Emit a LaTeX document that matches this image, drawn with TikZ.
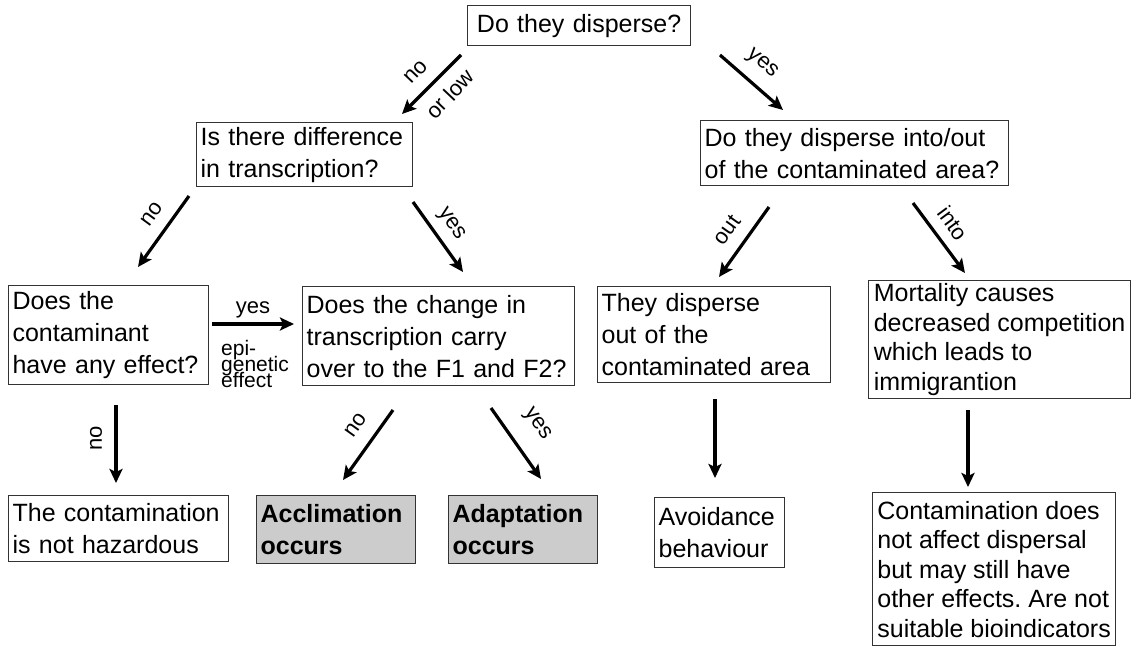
\documentclass[tikz,border=0pt]{standalone}
\usepackage{fontspec}
\setmainfont{Liberation Sans}
\usetikzlibrary{arrows.meta}
\frenchspacing
\newcommand\mytightlines{\lineskiplimit=-30pt\relax\lineskip=0pt\relax}
\begin{document}
\begin{tikzpicture}[x=1pt,y=-1pt,
  box/.style={draw=black!80, line width=1.2pt, anchor=north west, align=left,
    inner xsep=4pt, inner ysep=0pt, font=\fontsize{25}{32}\selectfont},
  tight/.style={font=\fontsize{25}{29.5}\selectfont},
  grey/.style={fill=black!20, font=\fontsize{25}{32}\selectfont\bfseries},
  arr/.style={line width=3.2pt, -{Stealth[length=14pt,width=13pt,inset=3pt]}},
  lab/.style={font=\fontsize{22}{22}\selectfont, inner sep=0pt}]
\fill[white] (0,0) rectangle (1144,648);
\useasboundingbox (0,0) rectangle (1144,648);

% boxes
\node[box, align=center, text width=215pt, minimum height=40pt] (q1) at (467,5) {Do they disperse?};
\node[box, text width=208pt, minimum height=64pt] (q2) at (196,122) {Is there difference\\in transcription?};
\node[box, text width=300pt, minimum height=65pt] (q3) at (700,120) {Do they disperse into/out\\of the contaminated area?};
\node[box, text width=192pt, minimum height=99pt] (q4) at (8,285) {Does the\\contaminant\\have any effect?};
\node[box, text width=264pt, minimum height=99pt] (q5) at (302,286) {Does the change in\\transcription carry\\over to the F1 and F2?};
\node[box, text width=225pt, minimum height=96pt] (q6) at (597,286) {They disperse\\out of the\\contaminated area};
\node[box, tight, minimum width=262pt, minimum height=118pt] (q7) at (868,280) {Mortality causes\\decreased competition\\which leads to\\immigrantion};
\node[box, text width=212pt, minimum height=66pt] (r1) at (8,495) {The contamination\\is not hazardous};
\node[box, grey, text width=151pt, minimum height=68pt] (r2) at (256,495) {Acclimation\\occurs};
\node[box, grey, text width=141pt, minimum height=68pt] (r3) at (448,495) {Adaptation\\occurs};
\node[box, text width=122pt, minimum height=70pt] (r4) at (654,497) {Avoidance\\behaviour};
\node[box, tight, minimum width=243pt, minimum height=153pt] (r5) at (872,492) {Contamination does\\not affect dispersal\\but may still have\\other effects. Are not\\suitable bioindicators};

% arrow end points
\coordinate (a1s) at (461,55);  \coordinate (a1e) at (402,114);
\coordinate (a2s) at (720,55);  \coordinate (a2e) at (783,110);
\coordinate (a3s) at (189,196); \coordinate (a3e) at (138,267);
\coordinate (a4s) at (413,202); \coordinate (a4e) at (463,272);
\coordinate (a5s) at (769,207); \coordinate (a5e) at (719,277);
\coordinate (a6s) at (913,203); \coordinate (a6e) at (965,273);
\coordinate (a7s) at (212,324); \coordinate (a7e) at (294,324);
\coordinate (a8s) at (116,405); \coordinate (a8e) at (116,483);
\coordinate (a9s) at (393,410); \coordinate (a9e) at (343,480);
\coordinate (a10s) at (491,408); \coordinate (a10e) at (541,479);
\coordinate (a11s) at (715,399); \coordinate (a11e) at (715,478);
\coordinate (a12s) at (968,410); \coordinate (a12e) at (968,487);

\foreach \i in {1,...,12} {\draw[arr] (a\i s) -- (a\i e);}

% labels
\node[lab, rotate=46.5] (l1) at (416,72) {no};
\node[lab, rotate=46.5] (l2) at (450,94) {or low};
\node[lab, rotate=-42] (l3) at (762,64) {yes};
\node[lab, rotate=54] (l4) at (152,214) {no};
\node[lab, rotate=-54.5] (l5) at (451,224) {yes};
\node[lab, rotate=54.5] (l6) at (727,230) {out};
\node[lab, rotate=-53.5] (l7) at (953,223) {into};
\node[lab] (l8) at (253,310) {yes};
\node[lab, anchor=west, align=left, font=\fontsize{21}{16}\selectfont\mytightlines] (l9) at (221,364) {epi-\\genetic\\effect};
\node[lab, rotate=90] (l10) at (96,438) {no};
\node[lab, rotate=54.5] (l11) at (356,425) {no};
\node[lab, rotate=-54.5] (l12) at (537,424) {yes};
\end{tikzpicture}
\end{document}
